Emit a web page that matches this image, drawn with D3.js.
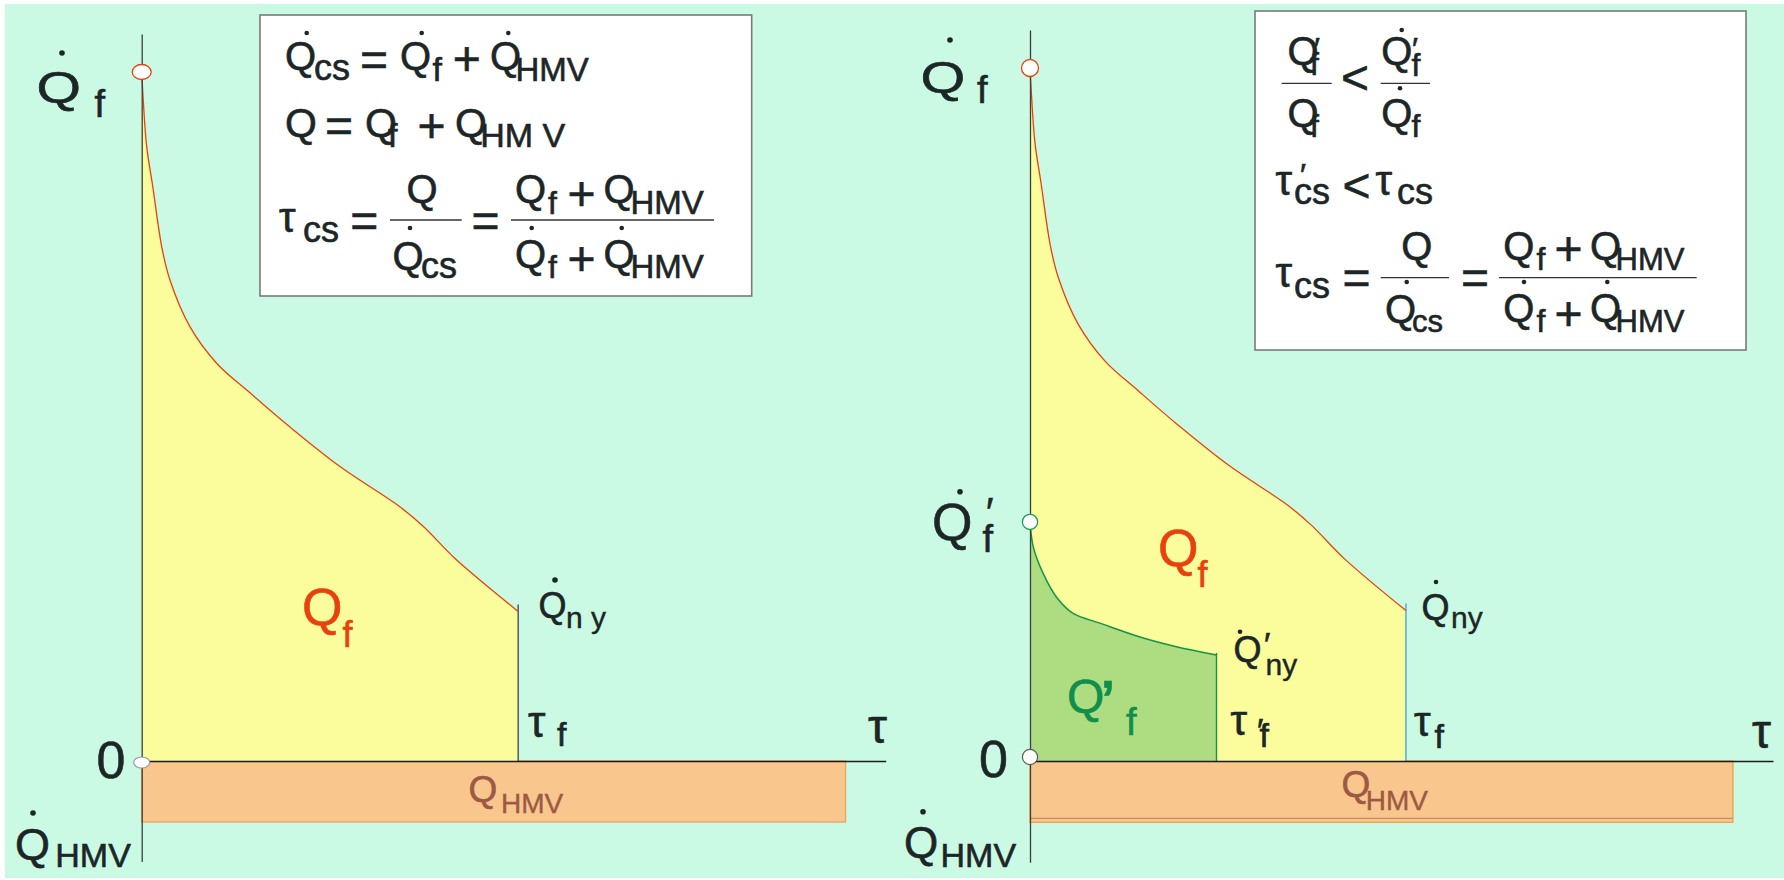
<!DOCTYPE html>
<html>
<head>
<meta charset="utf-8">
<script src="https://cdn.jsdelivr.net/npm/d3@7"></script>
<style>
  html, body { margin: 0; padding: 0; background: #ffffff; }
  svg { display: block; }
  text { font-family: "Liberation Sans", Arial, "DejaVu Sans", sans-serif; paint-order: stroke; }
</style>
</head>
<body>
<svg id="chart" width="1784" height="880"></svg>
<script>
// Heat-load duration curve Q̇f(τ): relative time τ (0–100) vs. heat load (0–100, top = Q̇f)
const tauCurve = [0, 0.15, 0.67, 1.5, 2.7, 3.8, 6.5, 10.1, 14.6, 19.9, 26.7, 34.7, 37.9, 42.3, 50.6];
const qCurve   = [100, 97, 89.2, 83.3, 74.6, 69.8, 63.0, 57.7, 53.4, 48.5, 42.7, 36.9, 34.0, 29.2, 21.7];

// Reduced duration curve Q̇'f(τ) after the change (second panel)
const tauCurveNew = [0, 0.44, 1.8, 3.6, 5.8, 9.4, 14.8, 19.7, 25.1];
const qCurveNew   = [34.5, 30.9, 27.0, 23.6, 21.3, 19.9, 17.9, 16.5, 15.3];

// Hot-water (HMV) load: constant level below the axis, over the whole period
const qHMV = -8.85;
const tauHMV = [0, 94.6];

// Axis extents
const tauAxis = [0, 100];
const qAxis = [-14.6, 105.5];

const ink = "#1d2626";
const col = {
  bg: "#cbfae4", yellow: "#fbfd9c", orange: "#f9c78d", green: "#aedc80",
  red: "#e8410d", greenLine: "#14944b", blue: "#3d9fdc", hmvText: "#9c5a44",
  redText: "#e8410d", greenText: "#0f8f4b"
};

const svg = d3.select("#chart");
svg.append("rect").attr("x", 5).attr("y", 4).attr("width", 1779).attr("height", 874).attr("fill", col.bg);

// items: [x, baseline, string, font size, anchor, colour, horizontal stretch, weight]
function addText(g, items) {
  items.forEach(([x, y, s, fs, anchor, color, sx, weight]) => {
    const c = color || ink;
    const t = g.append("text").attr("font-size", fs)
      .attr("text-anchor", anchor || "start").attr("fill", c)
      .attr("stroke", c).attr("stroke-width", fs > 30 ? 0.6 : 0.4)
      .attr("font-weight", weight || "normal").text(s);
    if (sx) t.attr("transform", `translate(${x},${y}) scale(${sx},1)`);
    else t.attr("x", x).attr("y", y);
  });
}
function addDots(g, pts, r) {
  pts.forEach(([x, y]) => g.append("circle").attr("cx", x).attr("cy", y).attr("r", r || 2.3).attr("fill", ink));
}
function addRules(g, rules) {
  rules.forEach(([x1, x2, y]) => g.append("line").attr("x1", x1).attr("x2", x2).attr("y1", y).attr("y2", y)
    .attr("stroke", "#333").attr("stroke-width", 1.3));
}

function drawPanel(opt) {
  const g = svg.append("g");
  const x = d3.scaleLinear().domain(tauAxis).range(opt.xr);
  const y = d3.scaleLinear().domain([0, 100]).range(opt.yr);
  const curve = d3.curveCatmullRom.alpha(0.5);
  const pts = tauCurve.map((t, i) => [t, qCurve[i]]);

  // HMV band
  g.append("rect")
    .attr("x", x(tauHMV[0])).attr("y", y(0))
    .attr("width", x(tauHMV[1]) - x(tauHMV[0])).attr("height", y(qHMV) - y(0))
    .attr("fill", col.orange).attr("stroke", opt.hmvStroke).attr("stroke-width", 1.4);
  if (opt.doubleEdge) {
    g.append("line").attr("x1", x(tauHMV[0])).attr("x2", x(tauHMV[1]))
      .attr("y1", y(qHMV) - 4).attr("y2", y(qHMV) - 4).attr("stroke", "#c98a64").attr("stroke-width", 1.2);
  }

  // Q_f area under the duration curve
  const area = d3.area().x(d => x(d[0])).y0(y(0)).y1(d => y(d[1])).curve(curve);
  g.append("path").datum(pts).attr("d", area).attr("fill", col.yellow);

  if (opt.reduced) {
    const ptsN = tauCurveNew.map((t, i) => [t, qCurveNew[i]]);
    g.append("path").datum(ptsN).attr("d", area).attr("fill", col.green);
    const lastN = ptsN[ptsN.length - 1];
    g.append("line").attr("x1", x(lastN[0])).attr("x2", x(lastN[0]))
      .attr("y1", y(lastN[1]) - 2).attr("y2", y(0)).attr("stroke", col.greenLine).attr("stroke-width", 1.4);
    g.append("path").datum(ptsN).attr("d", d3.line().x(d => x(d[0])).y(d => y(d[1])).curve(curve))
      .attr("fill", "none").attr("stroke", col.greenLine).attr("stroke-width", 1.5);
  }

  // τ_f boundary
  const last = pts[pts.length - 1];
  g.append("line").attr("x1", x(last[0])).attr("x2", x(last[0]))
    .attr("y1", y(last[1]) - 7).attr("y2", y(0)).attr("stroke", opt.tauLine).attr("stroke-width", 1.3);

  // duration curve
  g.append("path").datum(pts).attr("d", d3.line().x(d => x(d[0])).y(d => y(d[1])).curve(curve))
    .attr("fill", "none").attr("stroke", col.red).attr("stroke-width", 1.3);

  // axes (domain lines only)
  const yAx = d3.scaleLinear().domain(qAxis).range([y(qAxis[0]), y(qAxis[1])]);
  const ya = g.append("g").attr("transform", `translate(${x(0)},0)`)
    .call(d3.axisLeft(yAx).tickValues([]).tickSizeOuter(0));
  ya.select(".domain").attr("stroke", "#3a3f3f").attr("stroke-width", 1.3);
  const xa = g.append("g").attr("transform", `translate(0,${y(0)})`)
    .call(d3.axisBottom(x).tickValues([]).tickSizeOuter(0));
  xa.select(".domain").attr("stroke", "#1a1a1a").attr("stroke-width", 1.4);

  // markers on the load axis
  g.append("ellipse").attr("cx", x(0)).attr("cy", y(100)).attr("rx", opt.topR[0]).attr("ry", opt.topR[1])
    .attr("fill", "#fff").attr("stroke", col.red).attr("stroke-width", 1.3);
  if (opt.reduced) {
    g.append("circle").attr("cx", x(0)).attr("cy", y(qCurveNew[0])).attr("r", 7.6)
      .attr("fill", "#fff").attr("stroke", "#1f9a5a").attr("stroke-width", 1.3);
  }
  g.append("ellipse").attr("cx", x(0)).attr("cy", y(0) + opt.zeroDy).attr("rx", opt.zeroR[0]).attr("ry", opt.zeroR[1])
    .attr("fill", "#fff").attr("stroke", opt.zeroStroke).attr("stroke-width", 1.2);
  return g;
}

// ---------- left panel ----------
const gL = drawPanel({
  xr: [141.7, 885.7], yr: [761, 72], tauLine: "#3c4444", hmvStroke: "#e9a46a",
  topR: [9.5, 7.5], zeroR: [8, 5.5], zeroDy: 1.5, zeroStroke: "#9a9a9a", reduced: false, doubleEdge: false
});
addText(gL, [
  [36.5, 103, "Q", 44, "start", null, 1.3], [94.5, 117, "f", 38],
  [125.5, 778, "0", 52, "end"],
  [15, 860, "Q", 45], [55.3, 866.7, "HMV", 34],
  [887, 743, "τ", 48, "end"],
  [528, 737, "τ", 44], [557, 746, "f", 34],
  [538.5, 618, "Q", 36], [566, 628, "n y", 30],
  [302, 625, "Q", 52, "start", col.redText], [342.5, 646.7, "f", 36, "start", col.redText],
  [468.5, 801.7, "Q", 37, "start", col.hmvText], [501, 813, "HMV", 28, "start", col.hmvText]
]);
addDots(gL, [[62, 53], [33, 813], [555, 580]], 2.8);

// formula box (left)
const bL = svg.append("g");
bL.append("rect").attr("x", 260).attr("y", 15).attr("width", 491.7).attr("height", 281)
  .attr("fill", "#fff").attr("stroke", "#7a7a7a").attr("stroke-width", 1.6);
addText(bL, [
  [285, 70, "Q", 40], [314, 80, "cs", 36], [374, 75.9, "=", 48, "middle"],
  [400, 70, "Q", 40], [432.5, 80.7, "f", 34], [466.7, 74.8, "+", 48, "middle"],
  [490, 70, "Q", 40], [515.4, 80.7, "HMV", 33],

  [285, 136.7, "Q", 41], [339, 141.8, "=", 48, "middle"],
  [365, 136.7, "Q", 41], [388, 146.7, "f", 34], [431.5, 141.8, "+", 48, "middle"],
  [455, 136.7, "Q", 41], [480.3, 146.7, "HM V", 34],

  [279, 231.7, "τ", 42], [303, 241.7, "cs", 36], [364.2, 236.8, "=", 48, "middle"],
  [406.5, 203, "Q", 40],
  [392.5, 270, "Q", 40], [421, 278, "cs", 36],
  [485.5, 236.8, "=", 48, "middle"],
  [515, 203, "Q", 40], [548, 214, "f", 32], [581.5, 210.1, "+", 48, "middle"],
  [603.5, 203, "Q", 40], [630.4, 214, "HMV", 33],
  [515, 268, "Q", 40], [548, 278, "f", 32], [581.5, 275.1, "+", 48, "middle"],
  [603.5, 268, "Q", 40], [630.4, 278, "HMV", 33]
]);
addDots(bL, [[306.7, 33], [421.7, 33], [508.3, 33], [410, 228], [531.7, 228], [621.7, 228]]);
addRules(bL, [[390, 461.7, 220], [511, 714, 220]]);

// ---------- right panel ----------
const gR = drawPanel({
  xr: [1030, 1773], yr: [761, 68], tauLine: col.blue, hmvStroke: "#f2a24a",
  topR: [8.5, 8.5], zeroR: [7.6, 7.6], zeroDy: -4, zeroStroke: "#5a5a5a", reduced: true, doubleEdge: true
});
addText(gR, [
  [920.5, 93, "Q", 45, "start", null, 1.28], [977, 103, "f", 38],
  [932, 540, "Q", 52], [986, 526, "′", 40], [982.5, 551.7, "f", 38],
  [1008, 776.7, "0", 52, "end"],
  [904, 858, "Q", 44], [940.5, 866.7, "HMV", 34],
  [1771, 748, "τ", 48, "end"],
  [1414, 736, "τ", 42], [1434.5, 748, "f", 34],
  [1230.5, 735, "τ", 42], [1257, 742, "′", 34], [1259.5, 747, "f", 34],
  [1421.5, 620, "Q", 36], [1451, 628, "ny", 30],
  [1233.5, 661.7, "Q", 36], [1264, 656, "′", 34], [1265.5, 675, "ny", 30],
  [1158, 566, "Q", 52, "start", col.redText], [1197.5, 586.7, "f", 36, "start", col.redText],
  [1067, 713, "Q", 48, "start", col.greenText], [1101, 716, "’", 50, "start", col.greenText, null, "bold"],
  [1126, 735, "f", 38, "start", col.greenText],
  [1341.5, 797, "Q", 37, "start", col.hmvText], [1365.7, 810, "HMV", 28, "start", col.hmvText]
]);
addDots(gR, [[950, 40], [960, 491.7], [923, 811.7]], 2.8);
addDots(gR, [[1436, 582], [1240, 631.7]], 2.3);

// formula box (right)
const bR = svg.append("g");
bR.append("rect").attr("x", 1255).attr("y", 11).attr("width", 491).attr("height", 339)
  .attr("fill", "#fff").attr("stroke", "#7a7a7a").attr("stroke-width", 1.6);
addText(bR, [
  [1287.5, 65, "Q", 40], [1314, 60, "′", 32], [1310, 75, "f", 32],
  [1287.5, 126.7, "Q", 40], [1310, 136.7, "f", 32],
  [1355, 94.3, "<", 48, "middle"],
  [1381.3, 65, "Q", 40], [1412, 60, "′", 32], [1411.5, 75.7, "f", 32],
  [1381.3, 126.7, "Q", 40], [1411.5, 136.7, "f", 32],

  [1275.5, 195, "τ", 42], [1300, 186, "′", 32], [1294, 204, "cs", 36],
  [1356.5, 201.8, "<", 48, "middle"],
  [1375.5, 195, "τ", 42], [1397, 204, "cs", 36],

  [1275.5, 287, "τ", 42], [1294, 297.7, "cs", 36],
  [1356.5, 293.5, "=", 48, "middle"],
  [1401.3, 260, "Q", 40],
  [1385, 323.3, "Q", 40], [1412, 331.7, "cs", 31],
  [1475, 293.5, "=", 48, "middle"],
  [1503.3, 260, "Q", 40], [1536.6, 270, "f", 32], [1568.5, 265.1, "+", 48, "middle"],
  [1590, 260, "Q", 40], [1615.5, 270, "HMV", 31],
  [1503.3, 321.7, "Q", 40], [1536.6, 331.7, "f", 32], [1568.5, 330.1, "+", 48, "middle"],
  [1590, 321.7, "Q", 40], [1615.5, 331.7, "HMV", 31]
]);
addDots(bR, [[1401.7, 30], [1400, 88.3], [1406.7, 282], [1524, 282], [1607.3, 282]]);
addRules(bR, [[1281.7, 1331.7, 83.3], [1380.7, 1430, 83.3], [1380.7, 1449, 277.7], [1499, 1696.7, 277.7]]);
</script>
</body>
</html>
